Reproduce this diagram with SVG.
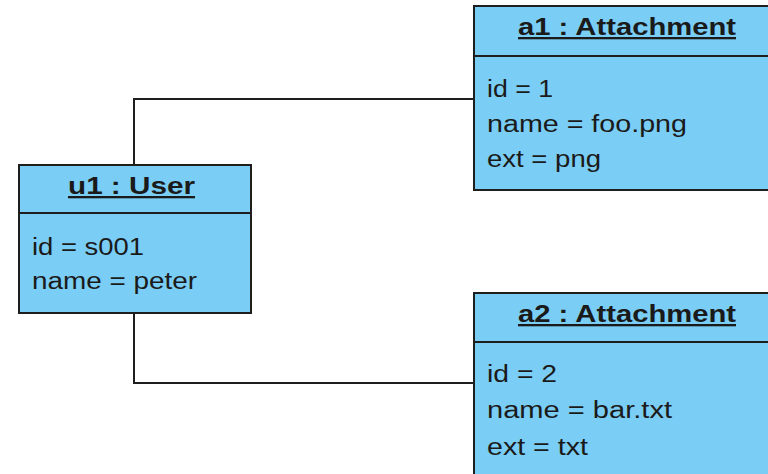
<svg xmlns="http://www.w3.org/2000/svg" width="768" height="474" viewBox="0 0 768 474">
<style>
.box{fill:#7acdf4;stroke:#1e1e1e;stroke-width:2}
.sep{stroke:#1e1e1e;stroke-width:2}
.title{font-family:"Liberation Sans",Arial,sans-serif;font-size:23px;font-weight:bold;fill:#1a1a1a;text-decoration:underline}
.attr{font-family:"Liberation Sans",Arial,sans-serif;font-size:23px;fill:#1a1a1a}
.conn{fill:none;stroke:#1e1e1e;stroke-width:2}
</style>
<rect width="768" height="474" fill="#ffffff"/>
<g id="connectors">
<polyline class="conn" points="134,165 134,99 474,99"/>
<polyline class="conn" points="134,313 134,383 474,383"/>
</g>
<g id="u1">
<rect class="box" x="19" y="165" width="232" height="148"/>
<line class="sep" x1="19" y1="213" x2="251" y2="213"/>
<text class="title" x="68" y="194" textLength="127" lengthAdjust="spacingAndGlyphs">u1 : User</text>
<text class="attr" x="32" y="255" textLength="112" lengthAdjust="spacingAndGlyphs">id = s001</text>
<text class="attr" x="32" y="289" textLength="165" lengthAdjust="spacingAndGlyphs">name = peter</text>
</g>
<g id="a1">
<rect class="box" x="474" y="6" width="310" height="184"/>
<line class="sep" x1="474" y1="56" x2="784" y2="56"/>
<text class="title" x="518" y="35" textLength="218" lengthAdjust="spacingAndGlyphs">a1 : Attachment</text>
<text class="attr" x="487" y="97" textLength="66" lengthAdjust="spacingAndGlyphs">id = 1</text>
<text class="attr" x="487" y="132" textLength="200" lengthAdjust="spacingAndGlyphs">name = foo.png</text>
<text class="attr" x="487" y="167" textLength="114" lengthAdjust="spacingAndGlyphs">ext = png</text>
</g>
<g id="a2">
<rect class="box" x="474" y="293" width="310" height="200"/>
<line class="sep" x1="474" y1="342" x2="784" y2="342"/>
<text class="title" x="518" y="322" textLength="218" lengthAdjust="spacingAndGlyphs">a2 : Attachment</text>
<text class="attr" x="487" y="382" textLength="70" lengthAdjust="spacingAndGlyphs">id = 2</text>
<text class="attr" x="487" y="418" textLength="185" lengthAdjust="spacingAndGlyphs">name = bar.txt</text>
<text class="attr" x="487" y="455" textLength="101" lengthAdjust="spacingAndGlyphs">ext = txt</text>
</g>
</svg>
